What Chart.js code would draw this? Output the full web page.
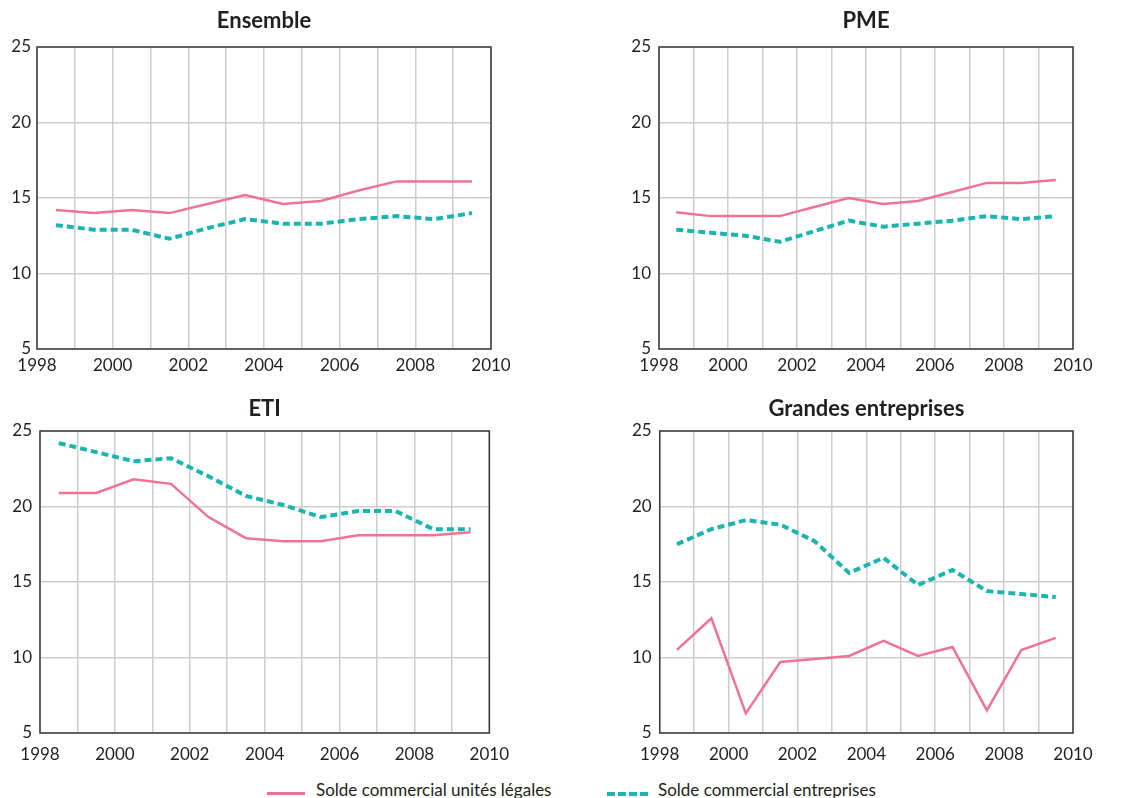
<!DOCTYPE html>
<html>
<head>
<meta charset="utf-8">
<script src="https://cdn.jsdelivr.net/npm/chart.js@4"></script>
<style>
  body { margin: 0; background: #fff; width: 1142px; height: 798px; position: relative; overflow: hidden; font-family: Lato, "Open Sans", sans-serif; }
  .panel { position: absolute; width: 520px; height: 380px; }
  .legende { position: absolute; top: 779px; left: 0; width: 1142px; height: 19px; font-size: 17px; color: #231f20; }
  .item { position: absolute; top: 0; white-space: nowrap; }
  .trait { position: absolute; top: 13px; }
</style>
</head>
<body>
<div class="panel" style="left:0;top:0;"><canvas id="c1"></canvas></div>
<div class="panel" style="left:629px;top:0;width:513px;"><canvas id="c2"></canvas></div>
<div class="panel" style="left:0;top:390px;"><canvas id="c3"></canvas></div>
<div class="panel" style="left:629px;top:390px;width:513px;"><canvas id="c4"></canvas></div>

<div class="legende">
  <div class="trait" style="left:267px;width:38px;height:3px;background:#f07392;"></div>
  <div class="item" style="left:316px;">Solde commercial unités légales</div>
  <div class="trait" style="left:607px;width:42px;height:4px;background:repeating-linear-gradient(90deg,#1bb5b0 0 8px,transparent 8px 11px);"></div>
  <div class="item" style="left:658px;">Solde commercial entreprises</div>
</div>

<script>
// années (milieu d'année)
var periodes = [1998.5, 1999.5, 2000.5, 2001.5, 2002.5, 2003.5, 2004.5, 2005.5, 2006.5, 2007.5, 2008.5, 2009.5];
var anneesAffichees = [1998, 2000, 2002, 2004, 2006, 2008, 2010];
var graduationsY = [5, 10, 15, 20, 25];

var ensembleLegales     = [14.2, 14.0, 14.2, 14.0, 14.6, 15.2, 14.6, 14.8, 15.5, 16.1, 16.1, 16.1];
var ensembleEntreprises = [13.2, 12.9, 12.9, 12.3, 13.0, 13.6, 13.3, 13.3, 13.6, 13.8, 13.6, 14.0];
var pmeLegales          = [14.05, 13.8, 13.8, 13.8, 14.4, 15.0, 14.6, 14.8, 15.4, 16.0, 16.0, 16.2];
var pmeEntreprises      = [12.9, 12.7, 12.5, 12.1, 12.8, 13.5, 13.1, 13.3, 13.5, 13.8, 13.6, 13.8];
var etiLegales          = [20.9, 20.9, 21.8, 21.5, 19.3, 17.9, 17.7, 17.7, 18.1, 18.1, 18.1, 18.3];
var etiEntreprises      = [24.2, 23.6, 23.0, 23.2, 22.0, 20.7, 20.1, 19.3, 19.7, 19.7, 18.5, 18.5];
var geLegales           = [10.5, 12.6, 6.3, 9.7, 9.9, 10.1, 11.1, 10.1, 10.7, 6.5, 10.5, 11.3];
var geEntreprises       = [17.5, 18.5, 19.1, 18.8, 17.7, 15.6, 16.6, 14.8, 15.8, 14.4, 14.2, 14.0];

var ROSE = '#f07392';
var TURQUOISE = '#1bb5b0';

// cadre foncé autour de la zone de tracé
var cadre = {
  id: 'cadre',
  beforeDatasetsDraw: function(chart) {
    var a = chart.chartArea, ctx = chart.ctx;
    ctx.save();
    ctx.strokeStyle = '#3a3a3a';
    ctx.lineWidth = 1.5;
    ctx.strokeRect(a.left, a.top, a.right - a.left, a.bottom - a.top);
    ctx.restore();
  }
};

function points(valeurs) {
  return valeurs.map(function(v, i) { return { x: periodes[i], y: v }; });
}

function graphique(id, titre, legales, entreprises, o) {
  var ctx = document.getElementById(id).getContext('2d');
  return new Chart(ctx, {
    type: 'line',
    data: {
      datasets: [{
        label: 'Solde commercial unités légales',
        data: points(legales),
        borderColor: ROSE,
        borderWidth: 2.5,
        pointRadius: 0,
        tension: 0
      }, {
        label: 'Solde commercial entreprises',
        data: points(entreprises),
        borderColor: TURQUOISE,
        borderWidth: 4,
        borderDash: [7, 4],
        pointRadius: 0,
        tension: 0
      }]
    },
    options: {
      responsive: true,
      maintainAspectRatio: false,
      animation: false,
      layout: { padding: { top: 0, right: o.droite, left: 0, bottom: 0 } },
      plugins: {
        legend: { display: false },
        tooltip: { enabled: false },
        title: {
          display: true,
          text: titre,
          fullSize: false,
          color: '#231f20',
          font: { family: 'Lato', size: 22, weight: 'bold' },
          padding: { top: o.titreHaut, bottom: o.titreBas }
        }
      },
      scales: {
        x: {
          type: 'linear',
          min: 1998,
          max: 2010,
          afterFit: function(s) { s.height = o.hx; },
          afterBuildTicks: function(s) {
            var t = [];
            for (var a = 1998; a <= 2010; a++) t.push({ value: a });
            s.ticks = t;
          },
          ticks: {
            autoSkip: false,
            maxRotation: 0,
            padding: o.padX,
            color: '#231f20',
            font: { family: 'Lato', size: 17 },
            callback: function(v) { return anneesAffichees.indexOf(v) >= 0 ? String(v) : ''; }
          },
          grid: { color: '#cdcdcd', lineWidth: 1.5, drawTicks: false },
          border: { display: false }
        },
        y: {
          min: 5,
          max: 25,
          afterFit: function(s) { s.width = o.ly; },
          afterBuildTicks: function(s) {
            s.ticks = graduationsY.map(function(v) { return { value: v }; });
          },
          ticks: {
            padding: o.padY,
            color: '#231f20',
            font: { family: 'Lato', size: 17 }
          },
          grid: { color: '#cdcdcd', lineWidth: 1.5, drawTicks: false },
          border: { display: false }
        }
      }
    },
    plugins: [cadre]
  });
}

graphique('c1', 'Ensemble', ensembleLegales, ensembleEntreprises,
  { ly: 37, droite: 29, hx: 31, padX: 6, padY: 6, titreHaut: 8, titreBas: 12.6 });
graphique('c2', 'PME', pmeLegales, pmeEntreprises,
  { ly: 30, droite: 69, hx: 31, padX: 6, padY: 8, titreHaut: 8, titreBas: 12.6 });
graphique('c3', 'ETI', etiLegales, etiEntreprises,
  { ly: 40, droite: 26, hx: 37, padX: 11, padY: 8, titreHaut: 6, titreBas: 8.6 });
graphique('c4', 'Grandes entreprises', geLegales, geEntreprises,
  { ly: 30, droite: 69, hx: 37, padX: 11, padY: 8, titreHaut: 6, titreBas: 8.6 });
</script>
</body>
</html>
